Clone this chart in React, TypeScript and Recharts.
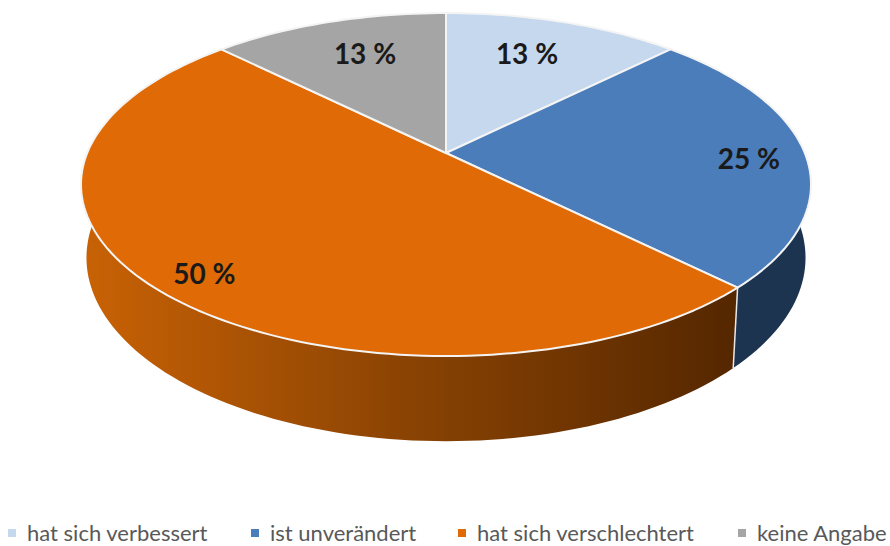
import { PieChart, Pie, Cell, Legend } from 'recharts';

const categories = ['hat sich verbessert', 'ist unverändert', 'hat sich verschlechtert', 'keine Angabe'];
const shares = [12.5, 25, 50, 12.5];
const faceColors = ['#c5d8ee', '#4a7db9', '#e06a05', '#a5a5a5'];
const wallColors = ['#7f93ab', '#1d3451', 'url(#orangeWall)', '#6e6e6e'];

// label placement on the face, in pie radius fractions and degrees
const labelRadii = [0.725, 0.84, 0.872, 0.725];
const labelAngleNudge = [2, -2, 2, -2];

const data = categories.map((name, i) => ({ name, value: shares[i] }));

// the tilted disc: the centre sits above the middle of the ellipse
const SCALE_X = 358.8;
const SCALE_Y = 165.7;
const TILT = 0.1837;
const DEPTH = 71;
const WALL_SCALE_X = 0.985;
const WALL_SCALE_Y = 1.07;

const RAD = Math.PI / 180;

function project(angle: number, r = 1) {
  const u = r * Math.cos(angle * RAD);
  const v = r * Math.sin(angle * RAD);
  const w = 1 + TILT * v;
  return { x: (SCALE_X * u) / w, y: (-SCALE_Y * v) / w };
}

function arcPoints(start: number, end: number) {
  const steps = Math.max(2, Math.ceil(Math.abs(end - start) / 1.5));
  const pts = [];
  for (let i = 0; i <= steps; i++) pts.push(project(start + ((end - start) * i) / steps));
  return pts;
}

function FaceShape(props: any) {
  const { cx, cy, startAngle, endAngle, fill } = props;
  const pts = arcPoints(startAngle, endAngle).map((p) => `L${cx + p.x},${cy + p.y}`);
  return <path d={`M${cx},${cy}${pts.join('')}Z`} fill={fill} stroke="#f4f4f4" strokeWidth={2} strokeLinejoin="round" />;
}

function WallShape(props: any) {
  const { cx, cy, startAngle, endAngle, fill } = props;
  const pts = arcPoints(startAngle, endAngle);
  const top = pts.map((p) => `${cx + p.x},${cy + p.y}`);
  const bottom = pts.map((p) => `${cx + p.x * WALL_SCALE_X},${cy + p.y * WALL_SCALE_Y + DEPTH}`).reverse();
  const first = pts[0];
  return (
    <g>
      <path d={`M${top.join('L')}L${bottom.join('L')}Z`} fill={fill} />
      <line
        x1={cx + first.x}
        y1={cy + first.y}
        x2={cx + first.x * WALL_SCALE_X}
        y2={cy + first.y * WALL_SCALE_Y + DEPTH}
        stroke="#e8e8e8"
        strokeWidth={1.5}
      />
    </g>
  );
}

function PercentLabel(props: any) {
  const { cx, cy, midAngle, value, index } = props;
  const p = project(midAngle + labelAngleNudge[index], labelRadii[index]);
  return (
    <text
      x={cx + p.x}
      y={cy + p.y}
      textAnchor="middle"
      dominantBaseline="central"
      fontFamily="Lato"
      fontWeight={700}
      fontSize={28}
      fill="#1a1a1a"
    >
      {`${Math.round(value)} %`}
    </text>
  );
}

function LegendRow() {
  const starts = [8, 251, 458, 738];
  return (
    <div style={{ position: 'relative', width: 890, height: 22 }}>
      {categories.map((name, i) => (
        <div
          key={name}
          style={{
            position: 'absolute',
            left: starts[i],
            top: 0,
            display: 'flex',
            alignItems: 'center',
            whiteSpace: 'nowrap',
            fontFamily: 'Lato',
            fontSize: 22,
            lineHeight: '22px',
            color: '#595959',
          }}
        >
          <span style={{ width: 8, height: 8, background: faceColors[i], marginRight: 11 }} />
          {name}
        </div>
      ))}
    </div>
  );
}

export default function App() {
  return (
    <div style={{ position: 'absolute', left: 0, top: 0, width: 890, height: 546, overflow: 'hidden', background: '#fff' }}>
      <PieChart width={890} height={546} margin={{ top: 0, right: 0, bottom: 0, left: 0 }}>
        <defs>
          <linearGradient id="orangeWall" gradientUnits="userSpaceOnUse" x1={81} y1={0} x2={735} y2={0}>
            <stop offset="0%" stopColor="#c96205" />
            <stop offset="50%" stopColor="#8a4303" />
            <stop offset="100%" stopColor="#552700" />
          </linearGradient>
        </defs>
        <Pie
          data={data}
          dataKey="value"
          nameKey="name"
          cx={446}
          cy={153}
          outerRadius={140}
          startAngle={90}
          endAngle={-270}
          paddingAngle={0}
          stroke="none"
          legendType="none"
          shape={WallShape}
          isAnimationActive={false}
        >
          {data.map((d, i) => (
            <Cell key={d.name} fill={wallColors[i]} />
          ))}
        </Pie>
        <Pie
          data={data}
          dataKey="value"
          nameKey="name"
          cx={446}
          cy={153}
          outerRadius={140}
          startAngle={90}
          endAngle={-270}
          paddingAngle={0}
          shape={FaceShape}
          label={PercentLabel}
          labelLine={false}
          isAnimationActive={false}
        >
          {data.map((d, i) => (
            <Cell key={d.name} fill={faceColors[i]} />
          ))}
        </Pie>
        <Legend content={<LegendRow />} wrapperStyle={{ left: 0, top: 522, width: 890 }} />
      </PieChart>
    </div>
  );
}
